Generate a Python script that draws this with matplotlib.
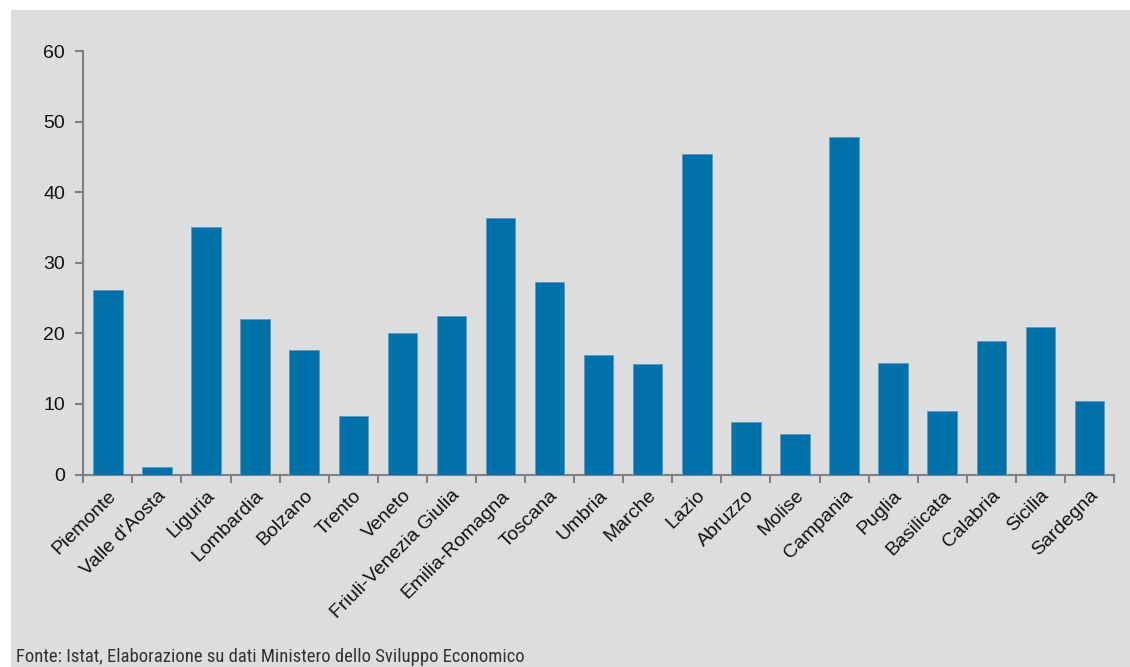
import matplotlib
matplotlib.use("Agg")
import matplotlib.pyplot as plt
from matplotlib.patches import Rectangle
from matplotlib import font_manager as fm
import numpy as np

regions = ["Piemonte", "Valle d'Aosta", "Liguria", "Lombardia", "Bolzano", "Trento",
           "Veneto", "Friuli-Venezia Giulia", "Emilia-Romagna", "Toscana", "Umbria",
           "Marche", "Lazio", "Abruzzo", "Molise", "Campania", "Puglia", "Basilicata",
           "Calabria", "Sicilia", "Sardegna"]
values = [26.2, 1.0, 35.1, 22.1, 17.6, 8.25, 20.0, 22.5, 36.4, 27.3, 17.0,
          15.7, 45.4, 7.45, 5.75, 47.8, 15.8, 8.95, 18.9, 20.9, 10.4]
yticks = [0, 10, 20, 30, 40, 50, 60]
source = "Fonte: Istat, Elaborazione su dati Ministero dello Sviluppo Economico"

# pick a condensed font for the source note if one is installed
names = {f.name for f in fm.fontManager.ttflist}
pref = ["Roboto Condensed", "Liberation Sans Narrow", "Arial Narrow", "PT Sans Narrow",
        "Archivo Narrow", "Open Sans Condensed", "IBM Plex Sans Condensed", "Fira Sans Condensed",
        "Barlow Condensed", "Encode Sans Condensed", "Asap Condensed", "Saira Condensed"]
cond = next((p for p in pref if p in names), None)
if cond is None:
    cands = sorted({f.name for f in fm.fontManager.ttflist
                    if ("Condensed" in f.name or "Narrow" in f.name) and f.style == "normal"})
    cond = cands[0] if cands else "Liberation Sans"

W, H = 1130, 667
fig = plt.figure(figsize=(W / 100, H / 100), dpi=100)
fig.patch.set_facecolor("white")
bg = "#DCDDDF"
fig.add_artist(Rectangle((11 / W, 0), 1 - 11 / W, 1 - 10 / H, transform=fig.transFigure,
                         facecolor=bg, edgecolor="none", zorder=-10))

ax = fig.add_axes([83.3 / W, (H - 474.5) / H, (1114 - 83.3) / W, (474.5 - 51) / H])
ax.set_zorder(1)
ax.set_facecolor("none")

x = np.arange(len(regions))
ax.bar(x, values, width=0.6, color="#0071A9", edgecolor="#5B9CC4", linewidth=0.6, zorder=3)

ax.set_xlim(-0.5, len(regions) - 0.5)
ax.set_ylim(0, 60)
ax.set_yticks(yticks)
ax.set_yticklabels([str(t) for t in yticks], fontsize=14, family=["Liberation Sans", "DejaVu Sans"],
                   color="#111111")

ax.set_xticks(x)
ax.set_xticklabels(regions, rotation=45, ha="right", rotation_mode="anchor", fontsize=14,
                   family=["Liberation Sans", "DejaVu Sans"], color="#111111")
ax.tick_params(axis="x", length=0, pad=9)
ax.set_xticks(np.arange(len(regions) + 1) - 0.5, minor=True)
ax.tick_params(axis="x", which="minor", length=6, width=1.5, color="#808080", direction="out")
ax.tick_params(axis="y", length=6, width=1.5, color="#808080", direction="out", pad=7)

for s in ["top", "right"]:
    ax.spines[s].set_visible(False)
for s in ["left", "bottom"]:
    ax.spines[s].set_color("#808080")
    ax.spines[s].set_linewidth(1.5)

t = fig.text(16 / W, (H - 662) / H, source, fontsize=15, color="#333333",
             family=[cond, "DejaVu Sans"], ha="left", va="baseline")
fig.canvas.draw()
w = t.get_window_extent().width
target = 508
if w > 0:
    t.set_fontsize(15 * target / w if w > target * 1.05 or w < target * 0.95 else 15)

fig.savefig("out.png", dpi=100, facecolor=fig.get_facecolor())
